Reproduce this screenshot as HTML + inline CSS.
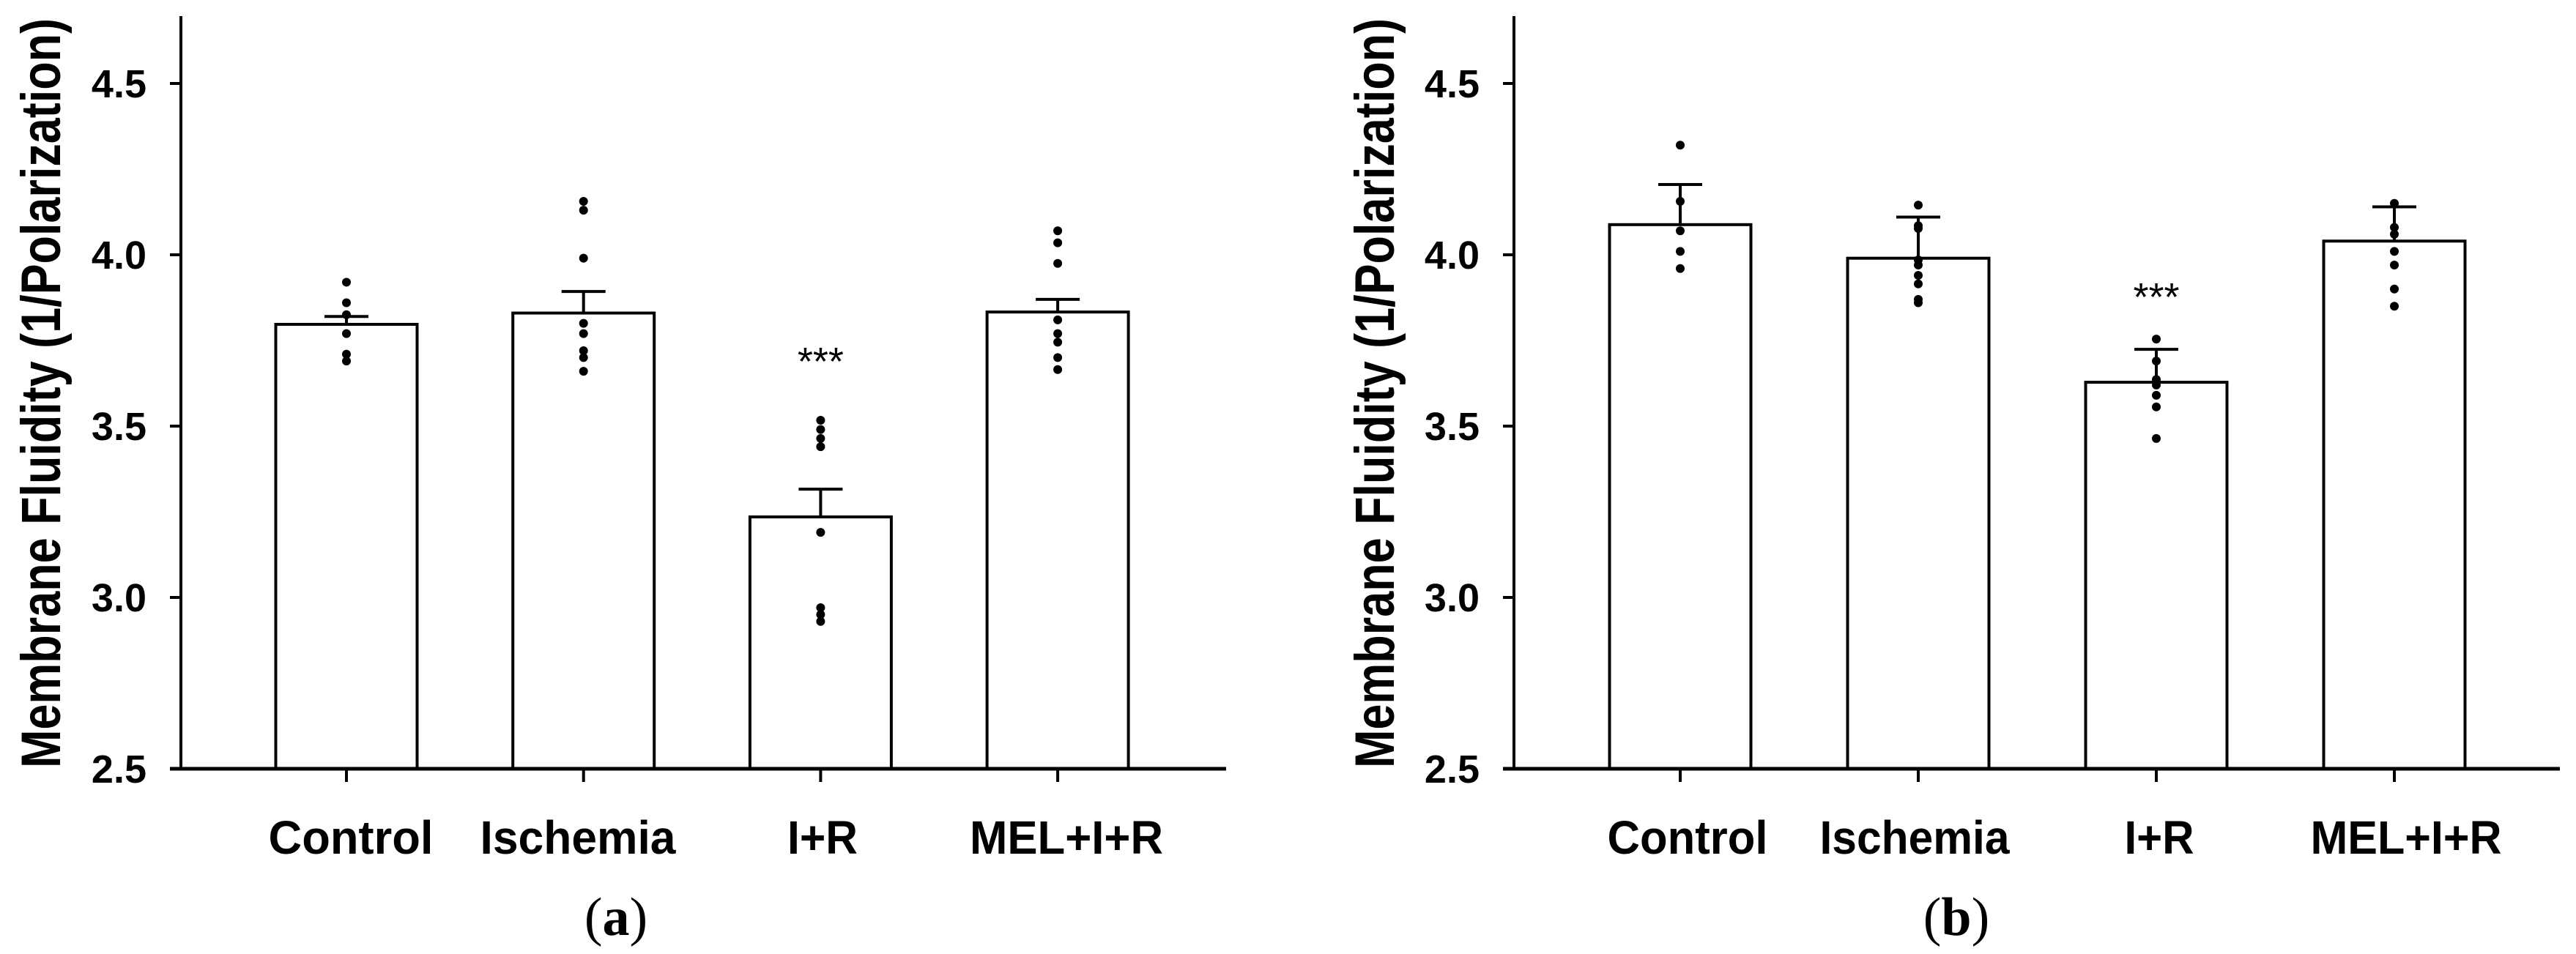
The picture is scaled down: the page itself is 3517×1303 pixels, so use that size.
<!DOCTYPE html>
<html><head><meta charset="utf-8"><style>
html,body{margin:0;padding:0;background:#fff;}
svg{display:block;}
</style></head><body>
<svg id="fig" width="3517" height="1303" viewBox="0 0 3517 1303" xmlns="http://www.w3.org/2000/svg">
<rect x="0" y="0" width="3517" height="1303" fill="#fff"/>
</svg>
<script>
const categories = ["Control", "Ischemia", "I+R", "MEL+I+R"];
const yTicks = [2.5, 3.0, 3.5, 4.0, 4.5];
const yTickLabels = ["2.5", "3.0", "3.5", "4.0", "4.5"];
const meansA = [3.797, 3.83, 3.235, 3.833];
const semA = [0.023, 0.063, 0.081, 0.037];
const pointsA = [
  [3.92, 3.86, 3.825, 3.77, 3.71, 3.69],
  [4.156, 4.13, 3.99, 3.80, 3.77, 3.72, 3.70, 3.66],
  [3.517, 3.49, 3.464, 3.44, 3.19, 2.97, 2.95, 2.93],
  [4.07, 4.035, 3.975, 3.81, 3.77, 3.745, 3.70, 3.665]
];
const meansB = [4.088, 3.99, 3.628, 4.04];
const semB = [0.117, 0.12, 0.096, 0.10];
const pointsB = [
  [4.32, 4.156, 4.07, 4.01, 3.96],
  [4.145, 4.085, 4.077, 3.985, 3.97, 3.94, 3.915, 3.87, 3.86],
  [3.754, 3.69, 3.636, 3.62, 3.59, 3.556, 3.464],
  [4.15, 4.08, 4.06, 4.01, 3.97, 3.90, 3.85]
];
const sigA = ["", "", "***", ""];
const sigB = ["", "", "***", ""];

const NS = "http://www.w3.org/2000/svg";
const svg = document.getElementById("fig");
function mk(tag, attrs, parent) {
  const e = document.createElementNS(NS, tag);
  for (const k in attrs) e.setAttribute(k, attrs[k]);
  (parent || svg).appendChild(e);
  return e;
}
function yScale(v) { return 1050 - (v - 2.5) * 468; }

function drawPanel(cfg) {
  const g = mk("g", {});
  
  
  const ax = cfg.axisX;
  const xScale = i => cfg.firstCenter + i * cfg.step;
  cfg.means.forEach((m, i) => {
    const cx = xScale(i);
    const bar = mk("rect", {x: cx - 96.5, y: yScale(m), width: 193, height: 1050 - yScale(m), fill: "#fff", stroke: "#000", "stroke-width": 4}, g);
    
    
    const top = yScale(m + cfg.sem[i]);
    const eb = mk("path", {d: `M${cx},${yScale(m)} V${top} M${cx - 30},${top} H${cx + 30}`, stroke: "#000", "stroke-width": 4, fill: "none"}, g);
    
    
    cfg.points[i].forEach(p => {
      const c = mk("circle", {cx: cx, cy: yScale(p), r: 6, fill: "#000"}, g);
      
      
    });
    if (cfg.sig[i]) {
      const s = mk("text", {x: cx, y: cfg.sigY, "text-anchor": "middle", "font-family": "Liberation Sans, sans-serif", "font-size": 54}, g);
      s.textContent = cfg.sig[i];
      
      
    }
    const tk = mk("line", {x1: cx, y1: 1050, x2: cx, y2: 1068, stroke: "#000", "stroke-width": 4}, g);
    
    
    const lb = mk("text", {x: cfg.labelCx[i], y: 1166, "text-anchor": "middle", "font-family": "Liberation Sans, sans-serif", "font-weight": "bold", "font-size": 64, textLength: cfg.labelW[i], lengthAdjust: "spacingAndGlyphs"}, g);
    lb.textContent = categories[i];
    
    
  });
  const yAxis = mk("line", {x1: ax, y1: 22, x2: ax, y2: 1052, stroke: "#000", "stroke-width": 4}, g);
  
  
  const xAxis = mk("line", {x1: ax - 15, y1: 1050, x2: cfg.axisEnd, y2: 1050, stroke: "#000", "stroke-width": 5}, g);
  
  
  yTicks.forEach((t, i) => {
    const y = yScale(t);
    const tk = mk("line", {x1: ax - 15, y1: y, x2: ax, y2: y, stroke: "#000", "stroke-width": 4}, g);
    
    
    const tl = mk("text", {x: ax - 47, y: y + 19, "text-anchor": "end", "font-family": "Liberation Sans, sans-serif", "font-weight": "bold", "font-size": 54}, g);
    tl.textContent = yTickLabels[i];
    
    
  });
  const yt = mk("text", {x: 0, y: 0, transform: `translate(${cfg.ylabX},537) rotate(-90)`, "text-anchor": "middle", "font-family": "Liberation Sans, sans-serif", "font-weight": "bold", "font-size": 76, textLength: 1024, lengthAdjust: "spacingAndGlyphs"}, g);
  yt.textContent = "Membrane Fluidity (1/Polarization)";
  
  
  const pl = mk("text", {x: cfg.panelX, y: 1277, "text-anchor": "middle", "font-family": "Liberation Serif, serif", "font-size": 74}, g);
  pl.innerHTML = '(<tspan font-weight="bold">' + cfg.letter + '</tspan>)';
  
  
}

drawPanel({name: "panel-a", letter: "a", axisX: 247, axisEnd: 1674, firstCenter: 473, step: 323.7,
  means: meansA, sem: semA, points: pointsA, sig: sigA, sigY: 512,
  labelCx: [479, 789, 1123, 1456], labelW: [225, 267, 96, 264], ylabX: 82, panelX: 841});
drawPanel({name: "panel-b", letter: "b", axisX: 2067, axisEnd: 3495, firstCenter: 2294, step: 325,
  means: meansB, sem: semB, points: pointsB, sig: sigB, sigY: 424,
  labelCx: [2304, 2614, 2948, 3285], labelW: [219, 259, 95, 261], ylabX: 1903, panelX: 2671});
</script>
</body></html>
